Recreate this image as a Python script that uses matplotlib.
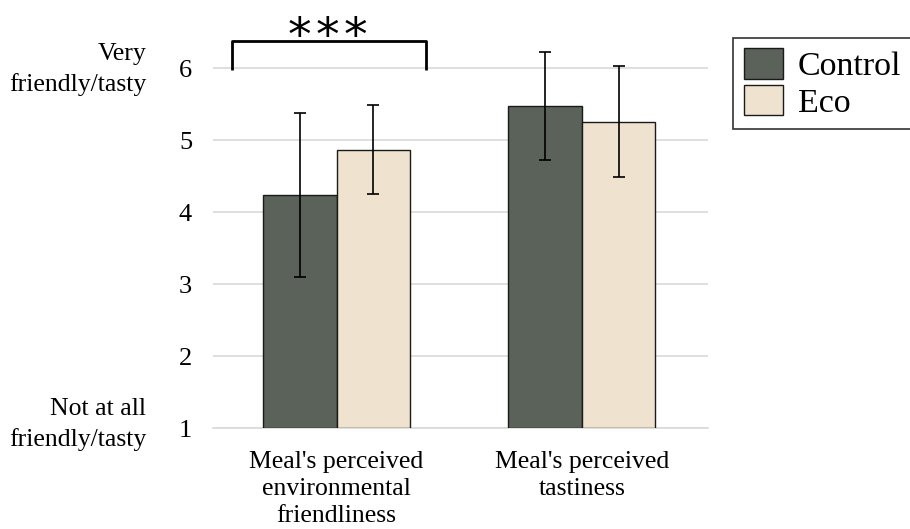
import numpy as np
import matplotlib.pyplot as plt

plt.rcParams['font.family'] = ['Liberation Serif', 'DejaVu Serif']

categories = ["Meal's perceived\nenvironmental\nfriendliness", "Meal's perceived\ntastiness"]
groups = ["Control", "Eco"]
control_means = [4.24, 5.48]
control_err = [1.14, 0.75]
eco_means = [4.87, 5.26]
eco_err = [0.62, 0.77]
yticks = [1, 2, 3, 4, 5, 6]

colors = ["#5a6259", "#efe3cf"]
width = 0.3
x = np.arange(len(categories))

fig = plt.figure(figsize=(9.1, 5.29), dpi=100)
ax = fig.add_axes([0.234, 0.19, 0.544, 0.7486])

base = 1
for i, (means, errs) in enumerate([(control_means, control_err), (eco_means, eco_err)]):
    pos = x - width / 2 + i * width
    ax.bar(pos, np.array(means) - base, width, bottom=base, color=colors[i],
           edgecolor="#1a1a1a", linewidth=1.0, label=groups[i], zorder=3)
    ax.errorbar(pos, means, yerr=errs, fmt="none", ecolor="black",
                elinewidth=1.2, capsize=4, capthick=1.2, zorder=4)

ax.set_xlim(-0.504, 1.514)
ax.set_ylim(1, 6.5)
ax.set_yticks(yticks)
ax.set_xticks(x)
ax.set_xticklabels(categories, fontsize=18.5, linespacing=1.3)
ax.tick_params(axis="y", length=0, pad=15, labelsize=19)
ax.tick_params(axis="x", length=0, pad=16)
ax.yaxis.grid(True, color="#d9d9d9", linewidth=1.2, zorder=0)
for s in ["top", "right", "left"]:
    ax.spines[s].set_visible(False)
ax.spines["bottom"].set_color("#d9d9d9")
ax.spines["bottom"].set_linewidth(1.2)

# end labels on the y axis
ax.annotate("Very\nfriendly/tasty", xy=(0, 6), xycoords=("axes fraction", "data"),
            xytext=(-48, -1), textcoords="offset points", ha="right", va="center",
            fontsize=18.5, linespacing=1.45)
ax.annotate("Not at all\nfriendly/tasty", xy=(0, 1), xycoords=("axes fraction", "data"),
            xytext=(-48, 3), textcoords="offset points", ha="right", va="center",
            fontsize=18.5, linespacing=1.45)

# significance bracket
bx = [-0.428, -0.428, 0.363, 0.363]
by = [5.98, 6.38, 6.38, 5.98]
ax.plot(bx, by, color="black", linewidth=2.0, solid_joinstyle="round",
        solid_capstyle="butt", clip_on=False, zorder=5)
for sx in [-0.150, -0.038, 0.077]:
    ax.text(sx, 6.26, "*", ha="center", va="baseline", fontsize=34,
            family="DejaVu Sans", clip_on=False)

leg = ax.legend(loc="upper left", bbox_to_anchor=(0.806, 0.928),
                bbox_transform=fig.transFigure, fontsize=24.5, frameon=True,
                fancybox=False, edgecolor="black", handlelength=1.15,
                handleheight=1.0, handletextpad=0.45, borderpad=0.3,
                labelspacing=0.08, borderaxespad=0)
leg.get_frame().set_linewidth(1.2)

fig.savefig("out.png", dpi=100)
